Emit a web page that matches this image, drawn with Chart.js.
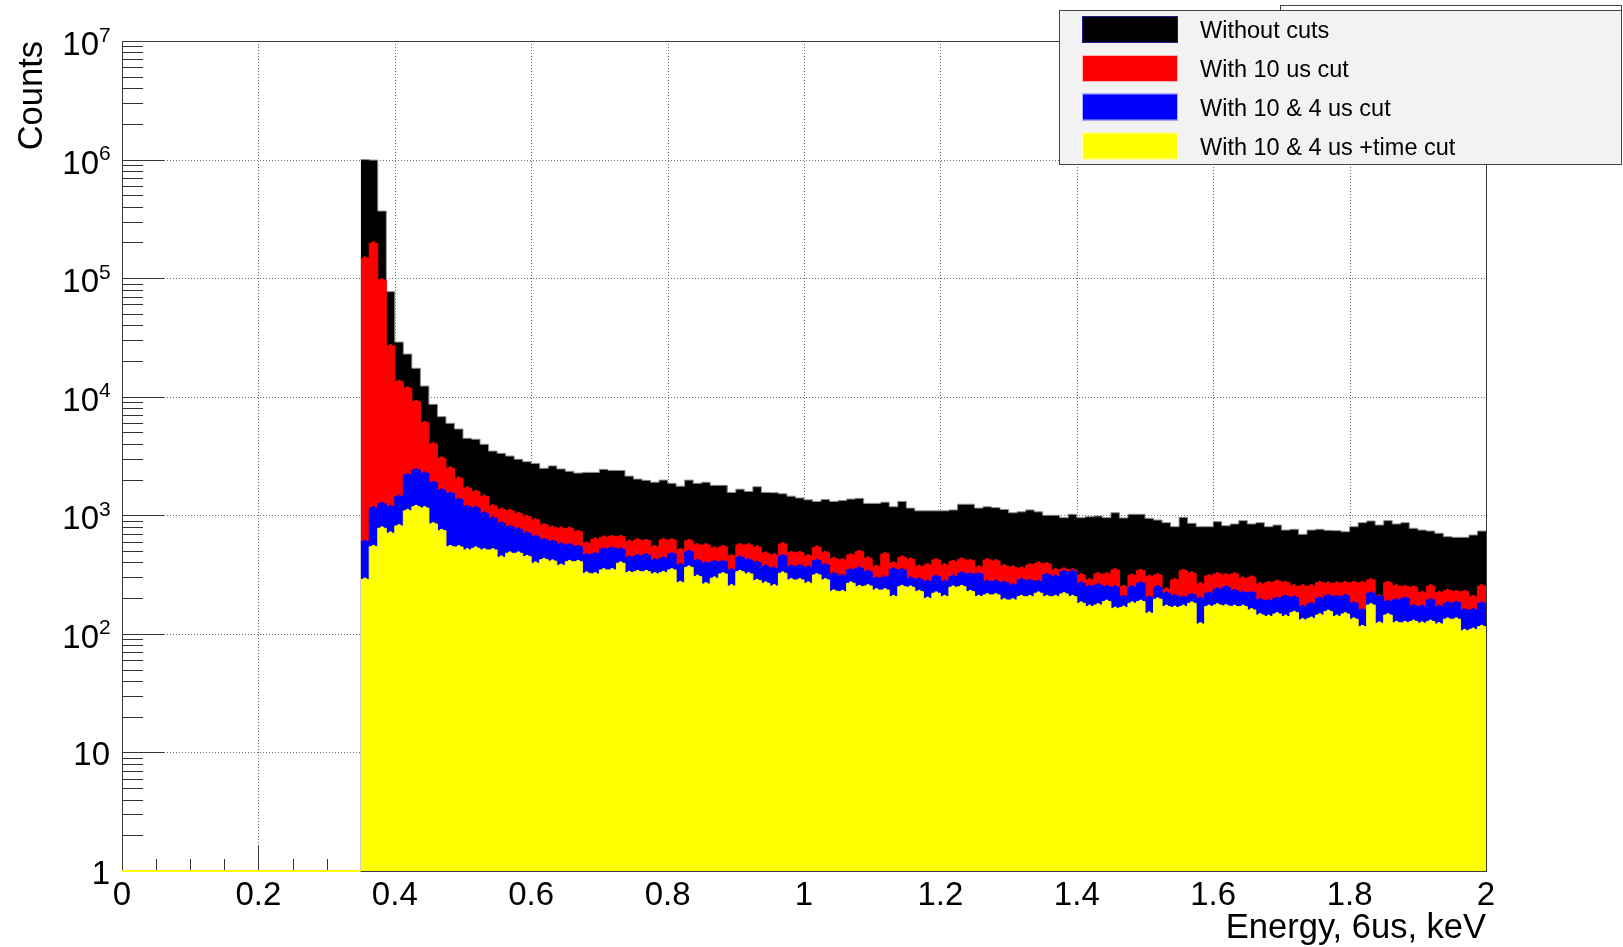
<!DOCTYPE html>
<html>
<head>
<meta charset="utf-8">
<title>Energy, 6us</title>
<script src="https://cdn.jsdelivr.net/npm/chart.js@4.4.1/dist/chart.umd.min.js"></script>
<style>
  html, body { margin: 0; padding: 0; background: #fff; }
  canvas { display: block; }
</style>
</head>
<body>
<canvas id="spectrum" width="1623" height="947"></canvas>
<script>
// --- histogram binning (keV) ---
const binStart = 0.35;
const binWidth = 0.0125;

// --- bin contents (132 bins, 0.35 .. 2 keV) ---
const withoutCuts = [
  1000000, 990000, 368000, 76900, 28900, 22900, 17400, 12300, 8630, 6790,
  5970, 5340, 4460, 4380, 3970, 3480, 3330, 3160, 2970, 2830,
  2740, 2490, 2610, 2460, 2350, 2270, 2300, 2300, 2440, 2390,
  2390, 2140, 2020, 1970, 1900, 1980, 1860, 1760, 1980, 1860,
  1900, 1790, 1790, 1560, 1660, 1590, 1740, 1560, 1550, 1520,
  1450, 1400, 1350, 1310, 1360, 1310, 1330, 1370, 1390, 1260,
  1260, 1290, 1180, 1310, 1150, 1090, 1090, 1090, 1090, 1110,
  1240, 1240, 1150, 1180, 1160, 1120, 1050, 1070, 1110, 1070,
  1000, 1000, 955, 1020, 955, 973, 986, 955, 1050, 950,
  1020, 1020, 943, 912, 866, 801, 961, 856, 801, 801,
  884, 817, 845, 901, 845, 866, 801, 828, 751, 762,
  691, 751, 762, 747, 742, 727, 801, 866, 895, 828,
  901, 845, 866, 777, 751, 737, 705, 660, 652, 652,
  682, 737
];
const cut10us = [
  147000, 197000, 96400, 26800, 13400, 11800, 9080, 6040, 3990, 3020,
  2490, 2050, 1690, 1580, 1440, 1200, 1120, 1090, 1030, 973,
  912, 830, 790, 777, 772, 727, 580, 627, 652, 660,
  660, 600, 619, 611, 543, 619, 619, 510, 611, 562,
  562, 527, 543, 454, 562, 562, 537, 478, 462, 573,
  484, 484, 454, 537, 484, 430, 420, 462, 493, 434,
  369, 472, 394, 442, 425, 369, 381, 420, 381, 406,
  425, 414, 364, 420, 411, 374, 364, 357, 381, 394,
  388, 346, 350, 346, 314, 285, 320, 320, 346, 250,
  311, 341, 304, 314, 238, 285, 341, 324, 263, 308,
  320, 314, 320, 294, 300, 263, 270, 276, 270, 253,
  253, 253, 270, 267, 267, 270, 270, 270, 285, 209,
  270, 253, 250, 247, 222, 253, 222, 231, 227, 227,
  206, 253
];
const cut10and4us = [
  599, 1150, 1250, 1180, 1440, 2190, 2410, 2260, 1880, 1630,
  1530, 1360, 1180, 1150, 1040, 943, 856, 801, 762, 705,
  660, 620, 600, 570, 562, 543, 462, 472, 517, 527,
  517, 442, 454, 462, 420, 434, 472, 381, 493, 414,
  394, 406, 406, 346, 442, 420, 398, 369, 357, 454,
  369, 374, 364, 414, 381, 320, 308, 346, 357, 334,
  294, 300, 350, 346, 294, 288, 276, 304, 276, 304,
  324, 320, 320, 276, 276, 270, 258, 285, 281, 276,
  314, 304, 334, 334, 267, 250, 258, 250, 247, 206,
  248, 267, 203, 247, 220, 209, 203, 213, 199, 220,
  238, 247, 231, 222, 222, 193, 190, 199, 206, 203,
  170, 179, 199, 209, 206, 209, 181, 159, 220, 206,
  187, 193, 199, 172, 170, 193, 170, 181, 183, 159,
  159, 181
];
const cut10and4usTime = [
  288, 543, 777, 705, 812, 1090, 1180, 1150, 845, 742,
  543, 540, 510, 527, 510, 510, 442, 478, 478, 448,
  394, 422, 410, 378, 406, 406, 324, 320, 346, 346,
  394, 328, 334, 334, 320, 328, 346, 270, 364, 304,
  263, 294, 320, 253, 334, 320, 281, 267, 253, 324,
  285, 285, 267, 314, 285, 229, 227, 267, 250, 253,
  234, 234, 206, 250, 247, 227, 199, 220, 206, 247,
  250, 227, 206, 213, 213, 193, 193, 206, 206, 220,
  206, 206, 217, 206, 181, 170, 175, 187, 164, 167,
  181, 187, 149, 196, 170, 167, 170, 181, 121, 170,
  175, 172, 170, 170, 159, 144, 140, 147, 140, 151,
  131, 135, 144, 154, 140, 147, 133, 115, 175, 123,
  144, 124, 124, 127, 123, 127, 121, 133, 133, 106,
  109, 115
];

const seriesNames = ['Without cuts', 'With 10 us cut', 'With 10 & 4 us cut', 'With 10 & 4 us +time cut'];
const seriesColors = ['#000000', '#ff0000', '#0000ff', '#ffff00'];

// --- axes ---
const xTickValues = [0, 0.2, 0.4, 0.6, 0.8, 1, 1.2, 1.4, 1.6, 1.8, 2];
const xTickLabels = ['0', '0.2', '0.4', '0.6', '0.8', '1', '1.2', '1.4', '1.6', '1.8', '2'];
const xMinorStep = 0.05;
const yDecadeExps = [0, 1, 2, 3, 4, 5, 6, 7];
const xTitle = 'Energy, 6us, keV';
const yTitle = 'Counts';

const FONT = '"Liberation Sans", Arial, Helvetica, sans-serif';

// bin edges -> points for a stepped line (last edge repeats the last bin)
function histPoints(values) {
  const pts = values.map((v, i) => ({ x: binStart + i * binWidth, y: v }));
  pts.push({ x: binStart + values.length * binWidth, y: values[values.length - 1] });
  return pts;
}
function binCentres(values) {
  return values.map((v, i) => ({ x: binStart + (i + 0.5) * binWidth, y: v }));
}

function fillSet(values, color, border, order) {
  return {
    data: histPoints(values),
    stepped: 'before',
    fill: 'start',
    backgroundColor: color,
    borderColor: border,
    borderWidth: 1,
    pointRadius: 0,
    order: order
  };
}
function markerSet(values, color, order) {
  return {
    data: binCentres(values),
    showLine: false,
    pointRadius: 2,
    pointBorderWidth: 0,
    pointBackgroundColor: color,
    order: order
  };
}

function seg(ctx, x1, y1, x2, y2) {
  ctx.beginPath();
  ctx.moveTo(x1, y1);
  ctx.lineTo(x2, y2);
  ctx.stroke();
}

// ROOT-like frame, grid, ticks, labels and legend
const rootLook = {
  id: 'rootLook',
  beforeDatasetsDraw(chart) {
    const { ctx, chartArea: a, scales: { x, y } } = chart;
    ctx.save();
    ctx.lineWidth = 1;
    // dotted grid
    ctx.strokeStyle = '#6e6e6e';
    ctx.setLineDash([1, 2]);
    xTickValues.forEach(v => {
      if (v <= x.min || v >= x.max) return;
      const px = Math.round(x.getPixelForValue(v)) + 0.5;
      seg(ctx, px, a.top, px, a.bottom);
    });
    yDecadeExps.forEach(e => {
      const v = Math.pow(10, e);
      if (v <= y.min || v >= y.max) return;
      const py = Math.round(y.getPixelForValue(v)) + 0.5;
      seg(ctx, a.left, py, a.right, py);
    });
    ctx.setLineDash([]);
    // ticks, drawn inward
    ctx.strokeStyle = '#333';
    const nMinor = Math.round((x.max - x.min) / xMinorStep);
    for (let i = 1; i < nMinor; i++) {
      const px = Math.round(x.getPixelForValue(x.min + i * xMinorStep)) + 0.5;
      const len = i % 4 === 0 ? 25 : 12;
      seg(ctx, px, a.bottom, px, a.bottom - len);
    }
    for (let e = 0; e < yDecadeExps.length - 1; e++) {
      for (let m = 1; m <= 9; m++) {
        const v = m * Math.pow(10, e);
        if (v <= y.min) continue;
        const py = Math.round(y.getPixelForValue(v)) + 0.5;
        seg(ctx, a.left, py, a.left + (m === 1 ? 42 : 21), py);
      }
    }
    ctx.restore();
  },
  afterDatasetsDraw(chart) {
    const { ctx, chartArea: a, scales: { x } } = chart;
    ctx.save();
    ctx.strokeStyle = '#3a3a3a';
    ctx.lineWidth = 1;
    ctx.strokeRect(Math.round(a.left) + 0.5, Math.round(a.top) + 0.5,
      Math.round(a.right - a.left), Math.round(a.bottom - a.top));
    // empty bins of the last histogram lie on the bottom edge
    ctx.strokeStyle = seriesColors[3];
    ctx.lineWidth = 2;
    seg(ctx, x.getPixelForValue(x.min), Math.round(a.bottom), x.getPixelForValue(binStart), Math.round(a.bottom));
    ctx.restore();
  },
  afterDraw(chart) {
    const { ctx, chartArea: a, scales: { x, y } } = chart;
    ctx.save();
    ctx.fillStyle = '#000';
    // x tick labels
    ctx.font = '33px ' + FONT;
    ctx.textAlign = 'center';
    ctx.textBaseline = 'alphabetic';
    xTickValues.forEach((v, i) => {
      ctx.fillText(xTickLabels[i], x.getPixelForValue(v), a.bottom + 34);
    });
    // y tick labels, 10^n with raised exponent
    yDecadeExps.forEach(e => {
      const py = y.getPixelForValue(Math.pow(10, e));
      if (e < 2) {
        ctx.font = '33px ' + FONT;
        ctx.textAlign = 'right';
        ctx.fillText(e === 0 ? '1' : '10', 110, py + 13);
      } else {
        ctx.font = '33px ' + FONT;
        ctx.textAlign = 'right';
        ctx.fillText('10', 99, py + 14);
        ctx.font = '21px ' + FONT;
        ctx.textAlign = 'left';
        ctx.fillText(String(e), 99, py + 0.5);
      }
    });
    // axis titles
    ctx.font = '34.5px ' + FONT;
    ctx.textAlign = 'right';
    ctx.fillText(xTitle, a.right, 938);
    ctx.save();
    ctx.translate(42, a.top);
    ctx.rotate(-Math.PI / 2);
    ctx.textAlign = 'right';
    ctx.fillText(yTitle, 0, 0);
    ctx.restore();

    // stats box peeking out behind the legend
    ctx.fillStyle = '#ffffff';
    ctx.strokeStyle = '#444';
    ctx.lineWidth = 1;
    ctx.fillRect(1280.5, 5.5, 341, 40);
    ctx.strokeRect(1280.5, 5.5, 341, 40);
    // legend
    ctx.fillStyle = '#f2f2f2';
    ctx.fillRect(1059.5, 10.5, 562, 154);
    ctx.strokeRect(1059.5, 10.5, 562, 154);
    ctx.font = '23.5px ' + FONT;
    ctx.textAlign = 'left';
    ctx.textBaseline = 'middle';
    const rowCentres = [29.5, 68.5, 107, 146];
    seriesNames.forEach((name, i) => {
      const cy = rowCentres[i];
      ctx.fillStyle = seriesColors[i];
      ctx.fillRect(1082, cy - 13.5, 96, 27);
      ctx.strokeStyle = i === 0 ? '#1c1c8c' : 'rgba(255,255,255,0.7)';
      ctx.strokeRect(1082.5, cy - 13, 95, 26);
      ctx.fillStyle = '#000';
      ctx.fillText(name, 1200, cy + 2.5);
    });
    ctx.restore();
  }
};

new Chart(document.getElementById('spectrum'), {
  type: 'line',
  data: {
    datasets: [
      fillSet(withoutCuts, seriesColors[0], '#8c8c8c', 7),
      fillSet(cut10us, seriesColors[1], seriesColors[1], 6),
      markerSet(cut10us, seriesColors[1], 5),
      fillSet(cut10and4us, seriesColors[2], seriesColors[2], 4),
      markerSet(cut10and4us, seriesColors[2], 3),
      fillSet(cut10and4usTime, seriesColors[3], seriesColors[3], 2),
      markerSet(cut10and4usTime, seriesColors[3], 1)
    ]
  },
  options: {
    responsive: false,
    animation: false,
    devicePixelRatio: 1,
    layout: { padding: { left: 0, right: 137, top: 41, bottom: 0 } },
    scales: {
      x: {
        type: 'linear',
        min: 0,
        max: 2,
        grid: { display: false },
        border: { display: false },
        ticks: { display: false },
        afterFit(scale) { scale.height = 76; }
      },
      y: {
        type: 'logarithmic',
        min: 1,
        max: 1e7,
        grid: { display: false },
        border: { display: false },
        ticks: { display: false },
        afterFit(scale) { scale.width = 122; }
      }
    },
    plugins: {
      legend: { display: false },
      tooltip: { enabled: false }
    }
  },
  plugins: [rootLook]
});
</script>
</body>
</html>
